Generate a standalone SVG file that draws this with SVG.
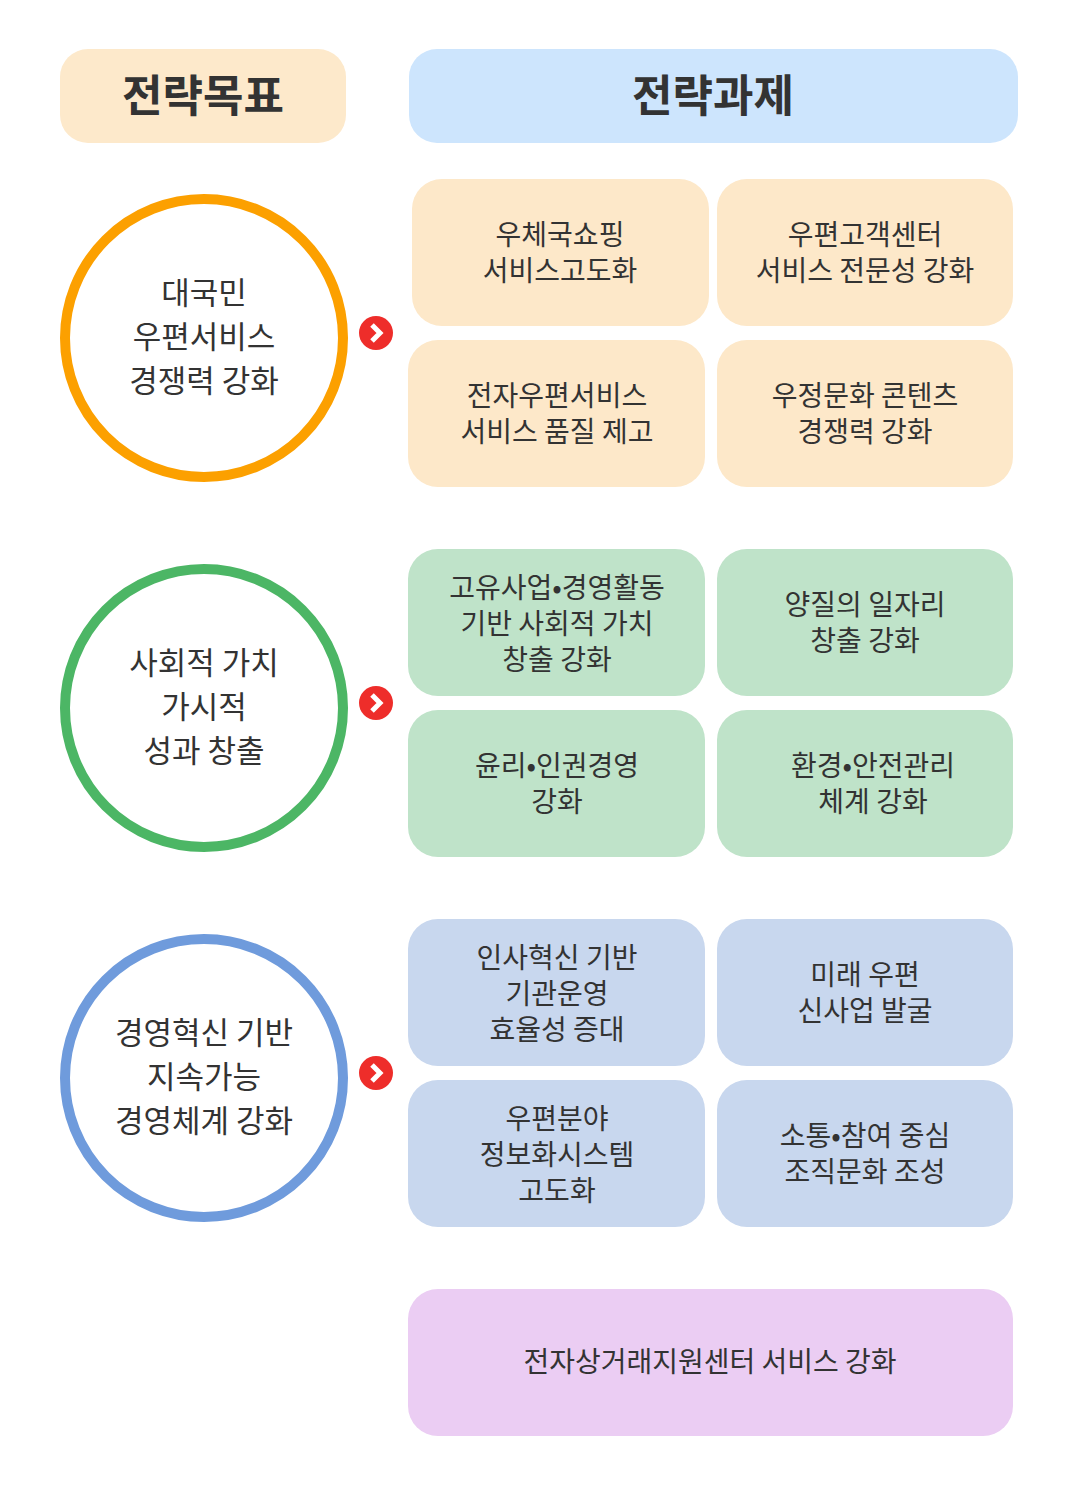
<svg xmlns="http://www.w3.org/2000/svg" width="1080" height="1505" viewBox="0 0 1080 1505">
<style>
text{font-family:"Noto Sans CJK KR","Noto Sans",sans-serif;fill:#333;text-anchor:middle}
.h{font-size:44px;font-weight:bold}
.c{font-size:31px}
.b{font-size:28px}
.o{fill:#fde8c9}.g{fill:#bfe3c9}.u{fill:#c8d7ee}.p{fill:#ebcdf3}
.ring{fill:#fff;stroke-width:10}
</style>
<defs>
<g id="arr"><circle r="17" fill="#ee2d2a"/><path d="M-4,-8 L4,0 L-4,8" fill="none" stroke="#fff" stroke-width="5"/></g>
</defs>
<rect width="1080" height="1505" fill="#fff"/>
<g id="h1"><rect x="60" y="49" width="286" height="94" rx="28" fill="#fde9cb"/><text class="h" x="203" y="112">전략목표</text></g>
<g id="h2"><rect x="409" y="49" width="609" height="94" rx="28" fill="#cde5fd"/><text class="h" x="713" y="112">전략과제</text></g>

<g id="goal1"><circle class="ring" cx="204" cy="338" r="139" stroke="#fca000"/>
<text class="c" x="204" y="304">대국민</text><text class="c" x="204" y="348">우편서비스</text><text class="c" x="204" y="392">경쟁력 강화</text></g>
<g id="goal2"><circle class="ring" cx="204" cy="708" r="139" stroke="#4cb665"/>
<text class="c" x="204" y="674">사회적 가치</text><text class="c" x="204" y="718">가시적</text><text class="c" x="204" y="762">성과 창출</text></g>
<g id="goal3"><circle class="ring" cx="204" cy="1078" r="139" stroke="#6f9bdc"/>
<text class="c" x="204" y="1044">경영혁신 기반</text><text class="c" x="204" y="1088">지속가능</text><text class="c" x="204" y="1132">경영체계 강화</text></g>

<g id="connectors"><use href="#arr" x="376" y="333"/><use href="#arr" x="376" y="703"/><use href="#arr" x="376" y="1073"/></g>

<g id="t1"><rect class="o" x="412" y="179" width="297" height="147" rx="30"/><text class="b" x="560" y="245">우체국쇼핑</text><text class="b" x="560" y="281">서비스고도화</text></g>
<g id="t2"><rect class="o" x="717" y="179" width="296" height="147" rx="30"/><text class="b" x="865" y="245">우편고객센터</text><text class="b" x="865" y="281">서비스 전문성 강화</text></g>
<g id="t3"><rect class="o" x="408" y="340" width="297" height="147" rx="30"/><text class="b" x="557" y="406">전자우편서비스</text><text class="b" x="557" y="442">서비스 품질 제고</text></g>
<g id="t4"><rect class="o" x="717" y="340" width="296" height="147" rx="30"/><text class="b" x="865" y="406">우정문화 콘텐츠</text><text class="b" x="865" y="442">경쟁력 강화</text></g>

<g id="t5"><rect class="g" x="408" y="549" width="297" height="147" rx="30"/><text class="b" x="557" y="598">고유사업•경영활동</text><text class="b" x="557" y="634">기반 사회적 가치</text><text class="b" x="557" y="670">창출 강화</text></g>
<g id="t6"><rect class="g" x="717" y="549" width="296" height="147" rx="30"/><text class="b" x="865" y="615">양질의 일자리</text><text class="b" x="865" y="651">창출 강화</text></g>
<g id="t7"><rect class="g" x="408" y="710" width="297" height="147" rx="30"/><text class="b" x="557" y="776">윤리•인권경영</text><text class="b" x="557" y="812">강화</text></g>
<g id="t8"><rect class="g" x="717" y="710" width="296" height="147" rx="30"/><text class="b" x="873" y="776">환경•안전관리</text><text class="b" x="873" y="812">체계 강화</text></g>

<g id="t9"><rect class="u" x="408" y="919" width="297" height="147" rx="30"/><text class="b" x="557" y="968">인사혁신 기반</text><text class="b" x="557" y="1004">기관운영</text><text class="b" x="557" y="1040">효율성 증대</text></g>
<g id="t10"><rect class="u" x="717" y="919" width="296" height="147" rx="30"/><text class="b" x="865" y="985">미래 우편</text><text class="b" x="865" y="1021">신사업 발굴</text></g>
<g id="t11"><rect class="u" x="408" y="1080" width="297" height="147" rx="30"/><text class="b" x="557" y="1129">우편분야</text><text class="b" x="557" y="1165">정보화시스템</text><text class="b" x="557" y="1201">고도화</text></g>
<g id="t12"><rect class="u" x="717" y="1080" width="296" height="147" rx="30"/><text class="b" x="865" y="1146">소통•참여 중심</text><text class="b" x="865" y="1182">조직문화 조성</text></g>

<g id="t13"><rect class="p" x="408" y="1289" width="605" height="147" rx="30"/><text class="b" x="710" y="1372">전자상거래지원센터 서비스 강화</text></g>
</svg>
